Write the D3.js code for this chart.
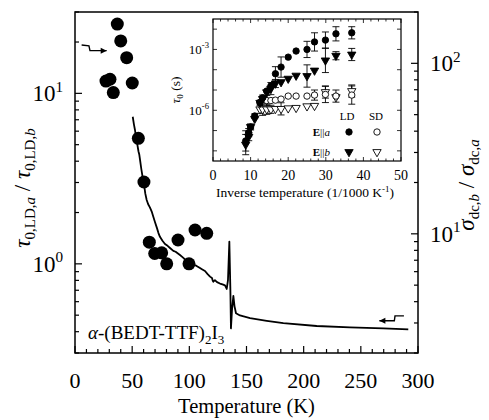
<!DOCTYPE html>
<html><head><meta charset="utf-8">
<script src="https://cdn.jsdelivr.net/npm/d3@7"></script>
<style>body{margin:0;background:#fff}svg{display:block}</style>
</head><body><svg id="c" width="489" height="420" font-family="'Liberation Serif', 'DejaVu Serif', serif"></svg>
<script>
// ---------- data ----------
const dotT     = [27.1, 30.6, 33.5, 37.0, 40.0, 45.2, 50.1, 55.4, 60.3, 65.0, 69.7, 75.8, 80.2, 90.1, 99.7, 105.0, 115.2];
const dotRatio = [11.8, 12.1, 10.1, 25.5, 20.3, 16.2, 11.5, 5.45, 3.02, 1.34, 1.15, 1.16, 1.00, 1.38, 1.00, 1.58, 1.51];

const lineT = [50.5,51.5,52.5,53.4,54.5,55.5,56.2,56.9,58,59,59.7,60.5,61.5,62.7,64,65.5,67.1,68.5,70,71.7,73,74.3,76.5,78.7,81,83.1,86,88,91.8,94,96,98,100.6,103,106,109.3,111,113.7,116,118.1,119.8,120.5,121,122.4,124.2,126.8,129,131.2,132.7,133.8,135.0,135.9,136.4,137.3,138.5,139.5,140.8,144.3,153.1,167.7,182.2,211.4,240.5,269.6,291.5];
const lineSigma = [48.6,44,40.5,36.5,33.5,30.5,29.2,27.1,24,21.8,20.2,19.2,17.2,15.8,14.9,14.3,13.5,12.6,11.7,10.8,10.1,9.6,9.1,8.71,8.5,8.26,7.95,7.85,7.51,7.3,7.1,6.95,6.74,6.6,6.5,6.3,6.2,6.05,5.8,5.61,5.51,5.3,5.24,5.35,5.21,5.11,5.05,4.98,4.75,5.36,9.0,4.69,2.79,3.57,4.32,3.77,3.42,3.32,3.20,3.09,2.99,2.88,2.83,2.79,2.75];

const xTicksMain = [0, 50, 100, 150, 200, 250, 300];

// inset (inverse temperature, log10 tau0)
const invT    = [8.7, 9.5, 10.0, 11.1, 12.5, 13.2, 14.3, 15.4, 16.6, 18.1, 20.0, 22.1, 25.0, 27.0, 29.9, 32.7, 36.9];
const ldA     = [-7.51,-7.10,-6.82,-6.28,-5.63,-5.38,-5.05,-4.80,-4.20,-3.87,-3.38,-3.08,-3.00,-2.63,-2.54,-2.23,-2.18];
const ldAerr  = [0.5,0.2,0.1,0.1,0,0,0,0,0.35,0.5,0,0,0.4,0.45,0.4,0.35,0.3];
const ldB     = [-7.69,-7.30,-6.82,-6.42,-5.63,-5.44,-5.11,-4.93,-4.68,-4.61,-4.44,-4.29,-4.31,-4.04,-3.54,-3.31,-3.25];
const ldBerr  = [0.5,0.2,0.15,0,0,0,0,0.3,0.2,0,0,0,0.55,0,0.6,0.2,0.3];
const sdInvT  = [12.5, 13.2, 14.3, 15.4, 16.6, 18.1, 20.0, 22.1, 25.0, 27.0, 29.9, 32.7, 36.9];
const sdA     = [-5.60,-5.55,-5.52,-5.52,-5.50,-5.45,-5.30,-5.30,-5.30,-5.25,-5.22,-5.30,-5.25];
const sdAerr  = [0,0.3,0.25,0,0,0,0,0,0,0.25,0.4,0.3,0.45];
const sdB     = [-5.95,-5.95,-5.95,-5.95,-5.93,-5.93,-5.90,-5.88,-5.80,-5.78,-5.10,-5.35,-5.05];
const sdBerr  = [0.2,0.3,0.25,0.2,0,0.3,0,0,0,0,0.3,0,0.3];
const insetXTicks = [0, 10, 20, 30, 40, 50];
const insetYLabels = [-3, -6];

// ---------- main scales ----------
const svg = d3.select("#c");
const x = d3.scaleLinear().domain([0, 300]).range([75, 418]);
const yL = d3.scaleLog().domain([0.3, 30]).range([353, 12]);
const yR = d3.scaleLog().domain([2, 200]).range([353, 12]);

svg.append("rect").attr("x", 75).attr("y", 12).attr("width", 343).attr("height", 341)
  .attr("fill", "none").attr("stroke", "#000").attr("stroke-width", 1.5);

const xt = svg.append("g");
d3.range(0, 301, 10).forEach(v => {
  const major = v % 50 === 0;
  xt.append("line").attr("x1", x(v)).attr("x2", x(v)).attr("y1", 353).attr("y2", 353 - (major ? 7 : 4))
    .attr("stroke", "#000").attr("stroke-width", 1.2);
});
xTicksMain.forEach(v => {
  svg.append("text").attr("x", x(v)).attr("y", 388).attr("text-anchor", "middle")
    .attr("font-size", 22).text(v);
});
svg.append("text").attr("x", x(150)).attr("y", 413).attr("text-anchor", "middle")
  .attr("font-size", 20.5).text("Temperature (K)");

function logTicks(lo, hi) {
  const out = [];
  for (let e = Math.floor(Math.log10(lo)); e <= Math.ceil(Math.log10(hi)); e++)
    for (let m = 1; m < 10; m++) { const v = m * Math.pow(10, e); if (v >= lo * 0.999 && v <= hi * 1.001) out.push({ v, major: m === 1 }); }
  return out;
}
logTicks(0.3, 30).forEach(t => {
  svg.append("line").attr("x1", 75).attr("x2", 75 + (t.major ? 7 : 4)).attr("y1", yL(t.v)).attr("y2", yL(t.v))
    .attr("stroke", "#000").attr("stroke-width", 1.2);
});
logTicks(2, 200).forEach(t => {
  svg.append("line").attr("x1", 418).attr("x2", 418 - (t.major ? 7 : 4)).attr("y1", yR(t.v)).attr("y2", yR(t.v))
    .attr("stroke", "#000").attr("stroke-width", 1.2);
});
function powLabel(sel, px, py, exp, anchor, fs) {
  const t = sel.append("text").attr("x", px).attr("y", py).attr("text-anchor", anchor).attr("font-size", fs);
  t.append("tspan").text("10");
  t.append("tspan").attr("dy", -fs * 0.42).attr("font-size", fs * 0.66).text(exp);
  return t;
}
[[1, 10], [0, 1]].forEach(([e, v]) => powLabel(svg, 63, yL(v) + 8, e, "end", 23));
[[2, 100], [1, 10]].forEach(([e, v]) => powLabel(svg, 430, yR(v) + 8, e, "start", 23));

const lt = svg.append("text").attr("transform", "translate(30,188) rotate(-90)").attr("text-anchor", "middle").attr("font-size", 23);
lt.append("tspan").attr("font-style", "italic").text("τ");
lt.append("tspan").attr("dy", 5).attr("font-size", 15).text("0,LD,");
lt.append("tspan").attr("font-size", 15).attr("font-style", "italic").text("a");
lt.append("tspan").attr("dy", -5).text(" / ");
lt.append("tspan").attr("font-style", "italic").text("τ");
lt.append("tspan").attr("dy", 5).attr("font-size", 15).text("0,LD,");
lt.append("tspan").attr("font-size", 15).attr("font-style", "italic").text("b");

const rt = svg.append("text").attr("transform", "translate(474,185) rotate(-90)").attr("text-anchor", "middle").attr("font-size", 23);
rt.append("tspan").attr("font-style", "italic").text("σ");
rt.append("tspan").attr("dy", 5).attr("font-size", 15).text("dc,");
rt.append("tspan").attr("font-size", 15).attr("font-style", "italic").text("b");
rt.append("tspan").attr("dy", -5).text(" / ");
rt.append("tspan").attr("font-style", "italic").text("σ");
rt.append("tspan").attr("dy", 5).attr("font-size", 15).text("dc,");
rt.append("tspan").attr("font-size", 15).attr("font-style", "italic").text("a");

const lineData = lineT.map((t, i) => [t, lineSigma[i]]);
svg.append("path").datum(lineData)
  .attr("d", d3.line().x(d => x(d[0])).y(d => yR(d[1])))
  .attr("fill", "none").attr("stroke", "#000").attr("stroke-width", 1.8).attr("stroke-linejoin", "round");

svg.append("g").selectAll("circle").data(dotT.map((t, i) => [t, dotRatio[i]])).join("circle")
  .attr("cx", d => x(d[0])).attr("cy", d => yL(d[1])).attr("r", 6.5).attr("fill", "#000");

const arrowUL = [[5.8, 19.2], [12.2, 19.0], [13.1, 17.8], [27.7, 17.8]];
const arrowLR = [[287.7, 3.30], [279.9, 3.30], [279.3, 3.09], [266.2, 3.09]];
function drawArrow(pts, yS) {
  const p = pts.map(d => [x(d[0]), yS(d[1])]);
  svg.append("path").attr("d", d3.line()(p)).attr("fill", "none").attr("stroke", "#000").attr("stroke-width", 1.4);
  const [a, b] = [p[p.length - 2], p[p.length - 1]];
  const ang = Math.atan2(b[1] - a[1], b[0] - a[0]);
  const L = 6, W = 3;
  const tip = b, base = [b[0] - L * Math.cos(ang), b[1] - L * Math.sin(ang)];
  svg.append("path").attr("d", `M${tip[0]},${tip[1]}L${base[0] - W * Math.sin(ang)},${base[1] + W * Math.cos(ang)}L${base[0] + W * Math.sin(ang)},${base[1] - W * Math.cos(ang)}Z`).attr("fill", "#000");
}
drawArrow(arrowUL, yL);
drawArrow(arrowLR, yR);

const an = svg.append("text").attr("x", 88).attr("y", 339).attr("font-size", 19);
an.append("tspan").attr("font-style", "italic").text("α");
an.append("tspan").text("-(BEDT-TTF)");
an.append("tspan").attr("dy", 5).attr("font-size", 13).text("2");
an.append("tspan").attr("dy", -5).text("I");
an.append("tspan").attr("dy", 5).attr("font-size", 13).text("3");

// ---------- inset ----------
const ix = d3.scaleLinear().domain([0, 50]).range([213, 401]);
const iy = d3.scaleLinear().domain([-8.5, -1.5]).range([161, 19]);
const ins = svg.append("g");
ins.append("rect").attr("x", 213).attr("y", 19).attr("width", 188).attr("height", 142)
  .attr("fill", "#fff").attr("stroke", "#000").attr("stroke-width", 1.2);
d3.range(0, 51, 2).forEach(v => {
  const major = v % 10 === 0;
  const h = major ? 4 : 2.5;
  ins.append("line").attr("x1", ix(v)).attr("x2", ix(v)).attr("y1", 161).attr("y2", 161 - h).attr("stroke", "#000").attr("stroke-width", 0.8);
  ins.append("line").attr("x1", ix(v)).attr("x2", ix(v)).attr("y1", 19).attr("y2", 19 + h).attr("stroke", "#000").attr("stroke-width", 0.8);
});
d3.range(-8, -1).forEach(e => {
  ins.append("line").attr("x1", 213).attr("x2", 217).attr("y1", iy(e)).attr("y2", iy(e)).attr("stroke", "#000").attr("stroke-width", 0.8);
  ins.append("line").attr("x1", 401).attr("x2", 397).attr("y1", iy(e)).attr("y2", iy(e)).attr("stroke", "#000").attr("stroke-width", 0.8);
});
insetXTicks.forEach(v => ins.append("text").attr("x", ix(v)).attr("y", 180).attr("text-anchor", "middle").attr("font-size", 14).text(v));
insetYLabels.forEach(e => powLabel(ins, 209, iy(e) + 4.5, e, "end", 13));
const ixl = ins.append("text").attr("x", ix(25) - 2).attr("y", 197).attr("text-anchor", "middle").attr("font-size", 13.5);
ixl.append("tspan").text("Inverse temperature (1/1000 K");
ixl.append("tspan").attr("dy", -5).attr("font-size", 9).text("-1");
ixl.append("tspan").attr("dy", 5).text(")");
const iyl = ins.append("text").attr("transform", "translate(180,90) rotate(-90)").attr("text-anchor", "middle").attr("font-size", 13.5);
iyl.append("tspan").attr("font-style", "italic").text("τ");
iyl.append("tspan").attr("dy", 3).attr("font-size", 9).text("0");
iyl.append("tspan").attr("dy", -3).text(" (s)");

function errBars(xs, ys, es) {
  xs.forEach((xv, i) => {
    const e = es[i]; if (!e) return;
    const cx = ix(xv), y1 = iy(ys[i] - e), y2 = iy(ys[i] + e);
    ins.append("line").attr("x1", cx).attr("x2", cx).attr("y1", y1).attr("y2", y2).attr("stroke", "#000").attr("stroke-width", 0.9);
    [y1, y2].forEach(yy => ins.append("line").attr("x1", cx - 3.5).attr("x2", cx + 3.5).attr("y1", yy).attr("y2", yy).attr("stroke", "#000").attr("stroke-width", 0.9));
  });
}
errBars(invT, ldA, ldAerr);
errBars(invT, ldB, ldBerr);
errBars(sdInvT, sdA, sdAerr);
errBars(sdInvT, sdB, sdBerr);

const tri = d3.symbol().type(d3.symbolTriangle).size(30);
function triDown(sel, cx, cy, filled) {
  sel.append("path").attr("d", tri()).attr("transform", `translate(${cx},${cy}) rotate(180)`)
    .attr("fill", filled ? "#000" : "#fff").attr("stroke", "#000").attr("stroke-width", 0.9);
}
function circ(sel, cx, cy, filled) {
  sel.append("circle").attr("cx", cx).attr("cy", cy).attr("r", 3.2)
    .attr("fill", filled ? "#000" : "#fff").attr("stroke", "#000").attr("stroke-width", 0.9);
}
sdInvT.forEach((v, i) => triDown(ins, ix(v), iy(sdB[i]), false));
sdInvT.forEach((v, i) => circ(ins, ix(v), iy(sdA[i]), false));
invT.forEach((v, i) => triDown(ins, ix(v), iy(ldB[i]), true));
invT.forEach((v, i) => circ(ins, ix(v), iy(ldA[i]), true));

ins.append("text").attr("x", 347).attr("y", 120).attr("text-anchor", "middle").attr("font-size", 11).text("LD");
ins.append("text").attr("x", 376).attr("y", 120).attr("text-anchor", "middle").attr("font-size", 11).text("SD");
[["a", 132], ["b", 152]].forEach(([s, yy]) => {
  const t = ins.append("text").attr("x", 330).attr("y", yy + 4).attr("text-anchor", "end").attr("font-size", 11);
  t.append("tspan").attr("font-weight", "bold").text("E");
  t.append("tspan").text("||");
  t.append("tspan").attr("font-style", "italic").text(s);
});
circ(ins, 349, 132, true); circ(ins, 377, 132, false);
triDown(ins, 349, 152, true); triDown(ins, 377, 152, false);
</script></body></html>
